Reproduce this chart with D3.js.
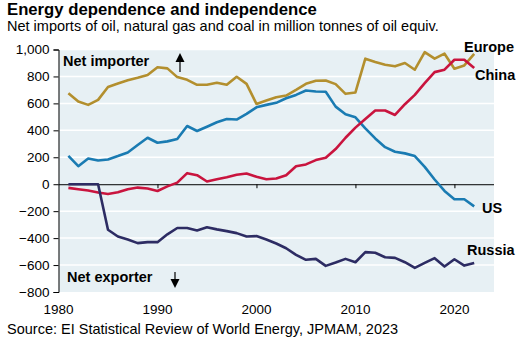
<!DOCTYPE html>
<html>
<head>
<meta charset="utf-8">
<script src="https://cdn.jsdelivr.net/npm/d3@7"></script>
<style>
  body { margin: 0; background: #fff; }
  svg text { font-family: "Liberation Sans", Arial, sans-serif; }
</style>
</head>
<body>
<svg id="chart"></svg>
<script>
let width = 527
let height = 351

let years = d3.range(1981, 2023)

// values, million tonnes oil equivalent
let europe = [676, 614, 589, 626, 722, 748, 772, 790, 810, 868, 860, 795, 775, 738, 738, 753, 738, 798, 745, 596,
  621, 646, 658, 700, 745, 768, 770, 743, 671, 681, 932, 907, 887, 875, 900, 850, 981, 932, 969, 857, 882, 967]
let us = [211, 134, 191, 176, 184, 209, 236, 291, 345, 308, 318, 335, 432, 395, 427, 460, 484, 480, 522, 571,
  589, 604, 638, 663, 696, 688, 686, 576, 519, 497, 415, 340, 275, 241, 229, 209, 129, 35, -50, -112, -112, -164]
let china = [-27, -37, -47, -62, -72, -60, -37, -25, -32, -50, -16, 12, 82, 67, 20, 37, 52, 70, 80, 55,
  37, 42, 67, 134, 147, 179, 196, 261, 345, 420, 484, 547, 547, 514, 594, 663, 750, 832, 850, 924, 924, 862]
let russia = [0, 0, 0, 0, -338, -388, -410, -437, -430, -430, -372, -325, -325, -343, -320, -335, -348, -363, -388, -385,
  -410, -440, -475, -524, -561, -554, -606, -581, -554, -579, -504, -509, -542, -547, -579, -621, -584, -549, -611, -557, -604, -584]

let seriesNames = ["Europe", "US", "China", "Russia"]
let seriesColors = ["#b38f2e", "#1a7bb2", "#c9143e", "#2d2c63"]

let yTicks = [-800, -600, -400, -200, 0, 200, 400, 600, 800, 1000]
let xTicks = [1980, 1990, 2000, 2010, 2020]

let xScale = d3.scaleLinear().domain([1980, 2024]).range([58.5, 494])
let yScale = d3.scaleLinear().domain([-800, 1000]).range([292, 49.5])

let svg = d3.select("#chart").attr("width", width).attr("height", height)

// titles
svg.append("text")
  .attr("x", 7).attr("y", 15)
  .style("font-size", "16.7px").style("font-weight", "bold")
  .text("Energy dependence and independence")

svg.append("text")
  .attr("x", 7).attr("y", 31)
  .style("font-size", "14.5px")
  .text("Net imports of oil, natural gas and coal in million tonnes of oil equiv.")

// plot background
svg.append("rect")
  .attr("x", xScale(1980)).attr("y", yScale(1000))
  .attr("width", xScale(2024) - xScale(1980))
  .attr("height", yScale(-800) - yScale(1000))
  .attr("fill", "#e7f0f4")

// gridlines
svg.append("g")
  .selectAll("line")
  .data(yTicks.filter(d => d != 0 && d != -800))
  .enter()
  .append("line")
  .attr("x1", xScale(1980)).attr("x2", xScale(2024))
  .attr("y1", d => yScale(d)).attr("y2", d => yScale(d))
  .attr("stroke", "#fff").attr("stroke-width", 1.5)

// y axis
let yAxis = d3.axisLeft(yScale).tickValues(yTicks).tickSize(5).tickPadding(4)
  .tickFormat(d3.format(","))
let gy = svg.append("g")
  .attr("transform", "translate(" + xScale(1980) + ",0)")
  .call(yAxis)
gy.select(".domain").attr("stroke", "#000")
gy.selectAll("text").style("font-size", "13.5px").attr("fill", "#000")
  .style("font-family", "'Liberation Sans', Arial, sans-serif")

// x axis at zero
let xAxis = d3.axisBottom(xScale).tickValues(xTicks).tickSize(4).tickFormat("")
let gx = svg.append("g")
  .attr("transform", "translate(0," + yScale(0) + ")")
  .call(xAxis)
gx.select(".domain").attr("stroke", "#000").attr("d", "M" + xScale(1980) + ",0.5H" + xScale(2024))
gx.selectAll(".tick").filter(d => d == 1980).remove()

// x labels at bottom
svg.append("g")
  .selectAll("text")
  .data(xTicks)
  .enter()
  .append("text")
  .attr("x", d => xScale(d)).attr("y", 314)
  .attr("text-anchor", "middle")
  .style("font-size", "13.5px")
  .text(d => d)

// lines
let allSeries = [europe, us, china, russia]
let line = d3.line()
  .x((d, i) => xScale(years[i]))
  .y(d => yScale(d))

svg.append("g")
  .selectAll("path")
  .data(allSeries)
  .enter()
  .append("path")
  .attr("d", d => line(d))
  .attr("fill", "none")
  .attr("stroke", (d, i) => seriesColors[i])
  .attr("stroke-width", 2.6)
  .attr("stroke-linejoin", "round")

// series labels
let labelPos = [[464, 52], [482, 213], [475, 80], [467, 255]]
svg.append("g")
  .selectAll("text")
  .data(seriesNames)
  .enter()
  .append("text")
  .attr("x", (d, i) => labelPos[i][0]).attr("y", (d, i) => labelPos[i][1])
  .style("font-size", "14.5px").style("font-weight", "bold")
  .text(d => d)

// importer / exporter notes
svg.append("text")
  .attr("x", 63).attr("y", 66)
  .style("font-size", "14.5px").style("font-weight", "bold")
  .text("Net importer")
svg.append("text")
  .attr("x", 67).attr("y", 282)
  .style("font-size", "14.5px").style("font-weight", "bold")
  .text("Net exporter")

// arrows
svg.append("line").attr("x1", 180).attr("x2", 180).attr("y1", 72).attr("y2", 58)
  .attr("stroke", "#000").attr("stroke-width", 1.2)
svg.append("path").attr("d", "M175.5,62 L180,53 L184.5,62 Z").attr("fill", "#000")
svg.append("line").attr("x1", 175).attr("x2", 175).attr("y1", 272).attr("y2", 284)
  .attr("stroke", "#000").attr("stroke-width", 1.2)
svg.append("path").attr("d", "M170.5,279 L175,288 L179.5,279 Z").attr("fill", "#000")

// source
svg.append("text")
  .attr("x", 7).attr("y", 334)
  .style("font-size", "14.5px")
  .text("Source: EI Statistical Review of World Energy, JPMAM, 2023")
</script>
</body>
</html>
